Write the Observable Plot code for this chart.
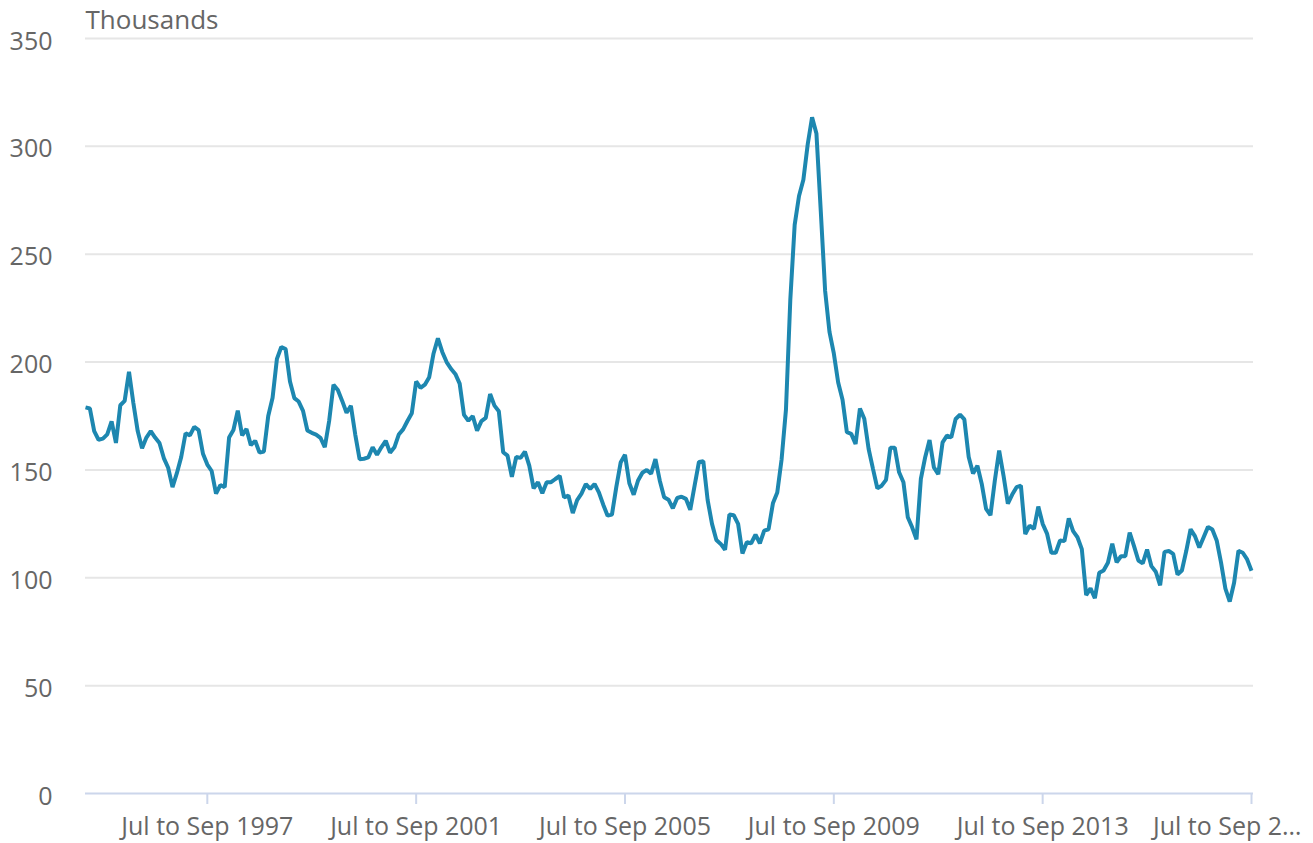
<!DOCTYPE html>
<html>
<head>
<meta charset="utf-8">
<script src="https://cdn.jsdelivr.net/npm/d3@7"></script>
<script src="https://cdn.jsdelivr.net/npm/@observablehq/plot@0.6"></script>
<style>
  html, body { margin: 0; padding: 0; background: #ffffff; }
  #chart { width: 1313px; height: 843px; }
</style>
</head>
<body>
<div id="chart"></div>
<script>
// Rolling three-month periods, starting "Mar to May 1995"
const monthNames = ["Jan","Feb","Mar","Apr","May","Jun","Jul","Aug","Sep","Oct","Nov","Dec"];
const startYear = 1995;
const startMonthIndex = 2; // March

// Values in thousands, one per rolling quarter (Mar-May 1995 ... Jul-Sep 2017)
const values = [
  179, 178.5, 168, 164, 164.5, 166.5, 172.5, 162.5, 180, 182,
  195.5, 181, 168, 160, 165, 168, 165, 162.5, 155.5, 151,
  142, 148.5, 156, 167, 166, 170, 168.5, 157.5, 152.5, 149.5,
  139, 143, 142, 165, 168.5, 177.5, 166, 169, 161.5, 163.5,
  158, 158.5, 175, 183.5, 201.5, 207, 206, 191, 183.3, 181.7,
  177.4, 168.3, 167.2, 166.4, 164.9, 160.5, 172.7, 189.5, 187, 182,
  176.5, 179.7, 166.4, 155, 155.2, 155.8, 160.5, 157, 160.5, 163.5,
  158, 160.5, 166.4, 168.8, 172.7, 176.3, 191, 188, 189.5, 193,
  204, 211, 204.7, 200, 196.9, 194.5, 190, 175.5, 172.8, 175,
  168.2, 172.6, 174.1, 185.2, 179.8, 177.2, 158.2, 156.6, 146.8, 156,
  155.6, 158.5, 152, 141.5, 144.3, 139.2, 144.3, 144.3, 145.8, 147.2,
  137.3, 138.1, 130, 136, 139, 143.5, 141.2, 143.5, 139.6, 133.9,
  128.8, 129.3, 142, 153.4, 157, 143.8, 138.5, 145.1, 148.7, 150,
  148.3, 155, 145, 137.3, 136.2, 132.2, 137, 137.6, 136.6, 131.5,
  142.7, 153.7, 154, 136, 125, 117.5, 115.7, 113, 129.3, 129,
  125, 111.3, 116.5, 116, 120, 116, 121.9, 122.5, 134.5, 139.5,
  155, 178, 229, 263.6, 277, 284.5, 301, 313.5, 306, 270,
  233, 214, 204, 190.5, 182.5, 167.5, 166.7, 162, 178.5, 173.7,
  159.7, 150.5, 141.5, 142.7, 145.4, 160.3, 160.3, 148.9, 144.3, 128.1,
  123.4, 117.8, 145.8, 155.9, 163.9, 151.2, 148, 162.8, 165.9, 165.1,
  173.6, 175.6, 173.4, 156, 148.3, 152, 143.5, 131.9, 129, 145,
  159, 147.4, 134.4, 138.6, 142, 142.7, 120.3, 124.2, 122.7, 133,
  125, 120.5, 111.6, 111.6, 117.3, 117, 127.5, 121.6, 118.8, 113.3,
  92, 95.1, 90.5, 102.3, 103.4, 107, 115.8, 107.2, 110, 110,
  121, 114.7, 108, 106.7, 113.1, 105.4, 102.8, 96.5, 112, 112.4,
  111.1, 101.5, 103.4, 112.4, 122.5, 119.3, 114, 118.8, 123.6, 122.4,
  117.3, 107, 95, 89, 97.7, 112.5, 111.6, 108.5, 103.3
];

const xTickLabels = ["Jul to Sep 1997", "Jul to Sep 2001", "Jul to Sep 2005", "Jul to Sep 2009", "Jul to Sep 2013", "Jul to Sep 2017"];
const lastTickShown = "Jul to Sep 2\u2026";
const yTicks = [0, 50, 100, 150, 200, 250, 300, 350];
const yTitle = "Thousands";

function periodLabel(i) {
  const m0 = startMonthIndex + i;
  const m1 = m0 + 2;
  const y0 = startYear + Math.floor(m0 / 12);
  const y1 = startYear + Math.floor(m1 / 12);
  const a = monthNames[m0 % 12], b = monthNames[m1 % 12];
  return y0 === y1 ? `${a} to ${b} ${y0}` : `${a} ${y0} to ${b} ${y1}`;
}
const periods = values.map((_, i) => periodLabel(i));
const data = values.map((v, i) => ({period: periods[i], value: v}));

const textColor = "#666666";
const fontSize = 25;

const chart = Plot.plot({
  width: 1313,
  height: 843,
  marginTop: 38,
  marginBottom: 50,
  marginLeft: 85,
  marginRight: 60,
  style: {fontFamily: "'Open Sans', sans-serif", fontSize: fontSize + "px", color: textColor, background: "#ffffff"},
  x: {type: "point", domain: periods, padding: 0, insetRight: 2},
  y: {domain: [0, 350]},
  marks: [
    Plot.gridY({ticks: yTicks.filter(d => d > 0), stroke: "#e6e6e6", strokeOpacity: 1, strokeWidth: 2}),
    Plot.axisY({ticks: yTicks, tickSize: 0, tickPadding: 33, label: null, fill: textColor, fontSize: fontSize, dy: 3}),
    Plot.axisX({ticks: xTickLabels.slice(0, -1), tickSize: 11, tickPadding: 13, label: null, stroke: "#ccd6eb", strokeWidth: 2, strokeOpacity: 1, fill: textColor, fontSize: fontSize}),
    Plot.axisX({ticks: xTickLabels.slice(-1), tickSize: 11, text: null, label: null, stroke: "#ccd6eb", strokeWidth: 2, strokeOpacity: 1}),
    Plot.axisX({ticks: xTickLabels.slice(-1), tickSize: 0, tickPadding: 24, label: null, tickFormat: () => lastTickShown, textAnchor: "end", dx: 50, fill: textColor, fontSize: fontSize}),
    Plot.ruleY([0], {stroke: "#ccd6eb", strokeWidth: 2}),
    Plot.line(data, {x: "period", y: "value", stroke: "#1d87b0", strokeWidth: 4, strokeLinejoin: "miter", strokeLinecap: "butt"}),
    Plot.text([yTitle], {frameAnchor: "top-left", textAnchor: "start", lineAnchor: "middle", dy: -18, fill: textColor, fontSize: 26})
  ]
});
document.getElementById("chart").appendChild(chart);
</script>
</body>
</html>
